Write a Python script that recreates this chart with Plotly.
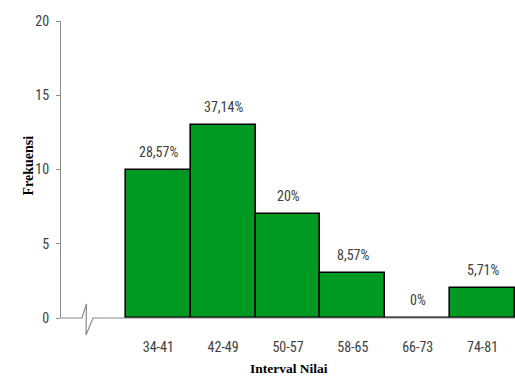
import plotly.graph_objects as go

# Frequency distribution of scores
intervals = ["34-41", "42-49", "50-57", "58-65", "66-73", "74-81"]
frequencies = [10, 13, 7, 3, 0, 2]
y_ticks = [0, 5, 10, 15, 20]

total = sum(frequencies)


def pct_label(v):
    p = round(100 * v / total, 2)
    s = f"{p:.2f}".rstrip("0").rstrip(".")
    return s.replace(".", ",") + "%"


percent_labels = [pct_label(v) for v in frequencies]

W, H = 515, 387
ML, MR, MT, MB = 61, 0, 21, 69
tick_font = dict(family="Liberation Sans Narrow, Roboto Condensed, Arial Narrow, sans-serif",
                 size=14, color="#404040")
title_font = dict(family="Liberation Serif, Times New Roman, serif", size=13.5, color="#000000")
axis_grey = "#8c8c8c"

fig = go.Figure()
fig.add_trace(go.Bar(
    x=intervals,
    y=frequencies,
    marker=dict(color="#009a22", line=dict(color="#000000", width=1.6)),
    width=1.0,
    hoverinfo="skip",
))

# Percentage labels above each bar
for cat, v, lab in zip(intervals, frequencies, percent_labels):
    fig.add_annotation(x=cat, y=v, text=lab, showarrow=False,
                       xref="x", yref="y", yanchor="bottom", yshift=8,
                       font=tick_font)

# x-axis line with a break mark near the origin (pixel positions -> paper units)
pw = W - ML - MR
ph = H - MT - MB


def px(x):
    return (x - ML) / pw


def py(y):
    return (H - MB - y) / ph


pts = [(61, 318), (82, 318), (86.5, 304), (86, 335), (93, 318), (516, 318)]
path = "M " + " L ".join(f"{px(x):.5f},{py(y):.5f}" for x, y in pts)
fig.add_shape(type="path", path=path, xref="paper", yref="paper",
              line=dict(color=axis_grey, width=1.2), layer="above")

# Axis titles
fig.add_annotation(text="<b>Frekuensi</b>", xref="paper", yref="paper",
                   x=px(18), y=py(166), showarrow=False, textangle=-90,
                   font=dict(title_font, size=14))
fig.add_annotation(text="<b>Interval Nilai</b>", xref="paper", yref="paper",
                   x=px(289), y=py(378), showarrow=False, font=title_font)

fig.update_layout(
    width=W, height=H,
    margin=dict(l=ML, r=MR, t=MT, b=MB, pad=0),
    paper_bgcolor="white", plot_bgcolor="white",
    showlegend=False, bargap=0,
    xaxis=dict(type="category", range=[-1.5, 5.5], showline=False,
               showgrid=False, zeroline=False, ticks="",
               tickfont=tick_font, ticklabelstandoff=19, fixedrange=True),
    yaxis=dict(range=[0, 20], tickvals=y_ticks, showline=True,
               linecolor=axis_grey, linewidth=1.2, ticks="outside",
               ticklen=4, tickcolor=axis_grey, tickwidth=1.2,
               showgrid=False, zeroline=False, tickfont=tick_font,
               ticklabelstandoff=4, fixedrange=True),
)

fig.write_html("out.html")
